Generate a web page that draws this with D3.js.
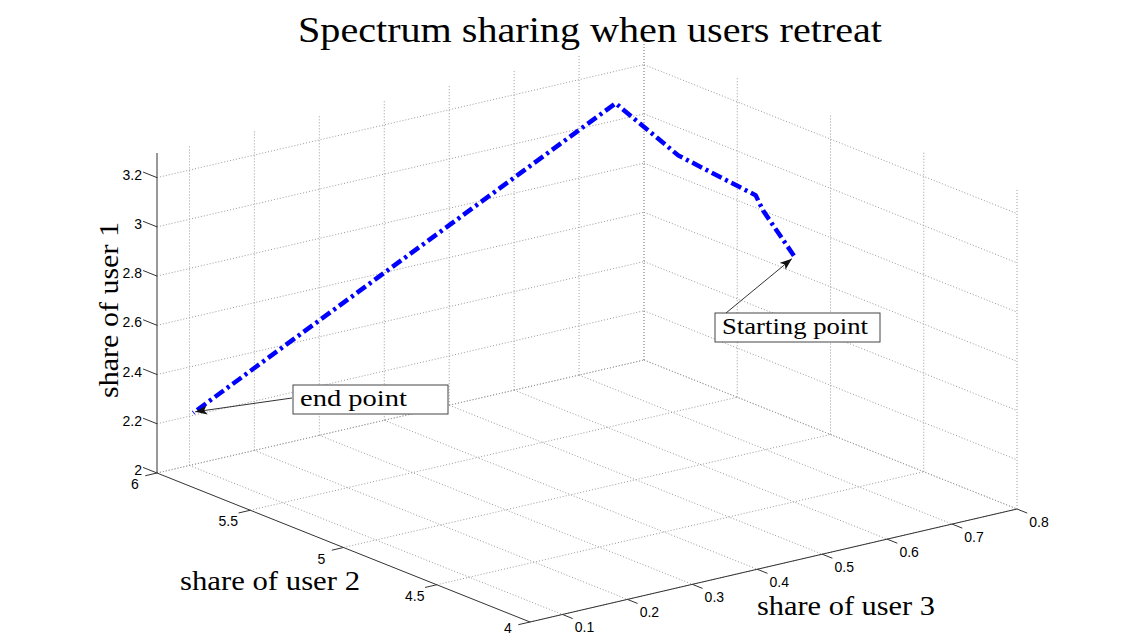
<!DOCTYPE html>
<html>
<head>
<meta charset="utf-8">
<script src="https://cdn.jsdelivr.net/npm/d3@7"></script>
<style>
  body { margin: 0; background: #fff; }
</style>
</head>
<body>
<div id="chart"></div>
<script>
// shares along the path, from starting point to end point
var user1 = [3.00, 3.15, 3.20, 3.22, 3.28, 2.22];
var user2 = [4.50, 4.63, 4.67, 5.12, 5.56, 5.98];
var user3 = [0.60, 0.59, 0.59, 0.60, 0.63, 0.10];

var ticks1 = [2, 2.2, 2.4, 2.6, 2.8, 3, 3.2];
var ticks2 = [4, 4.5, 5, 5.5, 6];
var ticks3 = [0.1, 0.2, 0.3, 0.4, 0.5, 0.6, 0.7, 0.8];
var lim1 = [2, 3.3], lim2 = [4, 6], lim3 = [0.05, 0.8];

var width = 1140, height = 637;
var svg = d3.select("#chart").append("svg")
    .attr("width", width)
    .attr("height", height)
    .attr("xmlns", "http://www.w3.org/2000/svg");

// orthographic 3d view: each axis maps to 0..1, then onto a screen vector
var s1 = d3.scaleLinear().domain(lim1).range([0, 1]);
var s2 = d3.scaleLinear().domain([lim2[1], lim2[0]]).range([0, 1]);
var s3 = d3.scaleLinear().domain(lim3).range([0, 1]);
var origin = [157, 473], v1 = [0, -320], v2 = [373, 149], v3 = [487, -113];

function proj(u1, u2, u3) {
    var a = s1(u1), b = s2(u2), c = s3(u3);
    return [origin[0] + a * v1[0] + b * v2[0] + c * v3[0],
            origin[1] + a * v1[1] + b * v2[1] + c * v3[1]];
}
function unit(v, len) {
    var n = Math.sqrt(v[0] * v[0] + v[1] * v[1]);
    return [v[0] / n * len, v[1] / n * len];
}
var line = d3.line();

// grid on floor and the two back walls
var grid = [];
ticks2.forEach(function(t) {
    grid.push([proj(lim1[0], t, lim3[0]), proj(lim1[0], t, lim3[1])]);   // floor
    grid.push([proj(lim1[0], t, lim3[1]), proj(lim1[1], t, lim3[1])]);   // right wall
});
ticks3.forEach(function(t) {
    grid.push([proj(lim1[0], lim2[1], t), proj(lim1[0], lim2[0], t)]);   // floor
    grid.push([proj(lim1[0], lim2[1], t), proj(lim1[1], lim2[1], t)]);   // left wall
});
ticks1.forEach(function(t) {
    grid.push([proj(t, lim2[1], lim3[0]), proj(t, lim2[1], lim3[1])]);   // left wall
    grid.push([proj(t, lim2[1], lim3[1]), proj(t, lim2[0], lim3[1])]);   // right wall
});
svg.append("g").selectAll("path")
    .data(grid)
    .enter().append("path")
    .attr("d", line)
    .attr("fill", "none")
    .attr("stroke", "#9a9a9a")
    .attr("stroke-width", 1)
    .attr("stroke-dasharray", "1,2");

// axis lines
var axes = [
    [proj(lim1[0], lim2[1], lim3[0]), proj(lim1[1], lim2[1], lim3[0])],
    [proj(lim1[0], lim2[1], lim3[0]), proj(lim1[0], lim2[0], lim3[0])],
    [proj(lim1[0], lim2[0], lim3[0]), proj(lim1[0], lim2[0], lim3[1])]
];
svg.append("g").selectAll("path")
    .data(axes)
    .enter().append("path")
    .attr("d", line)
    .attr("stroke", "#333")
    .attr("stroke-width", 1);

var tickG = svg.append("g")
    .style("font-family", "'Liberation Sans', Arial, sans-serif")
    .style("font-size", "14px")
    .attr("fill", "#000");

function ticks(vals, at, dir, off, anchor) {
    vals.forEach(function(t) {
        var p = at(t);
        tickG.append("path")
            .attr("d", line([p, [p[0] + dir[0], p[1] + dir[1]]]))
            .attr("stroke", "#333");
        tickG.append("text")
            .attr("x", p[0] + off[0])
            .attr("y", Math.min(p[1] + off[1], height - 9))  // keep bottom label on page
            .attr("text-anchor", anchor)
            .attr("dominant-baseline", "central")
            .text(t);
    });
}
ticks(ticks1, function(t) { return proj(t, lim2[1], lim3[0]); }, unit([-v2[0], -v2[1]], 15), [-15, -3], "end");
ticks(ticks2, function(t) { return proj(lim1[0], t, lim3[0]); }, unit([-v3[0], -v3[1]], 12), [-22, 11], "middle");
ticks(ticks3, function(t) { return proj(lim1[0], lim2[0], t); }, unit(v2, 11), [22, 13], "middle");

// data path
var pts = user1.map(function(d, i) { return proj(user1[i], user2[i], user3[i]); });
svg.append("path")
    .attr("d", line(pts))
    .attr("fill", "none")
    .attr("stroke", "#0000ff")
    .attr("stroke-width", 4.5)
    .attr("stroke-dasharray", "11,4,3,4");

// labels
var serif = "'Liberation Serif', 'Times New Roman', serif";
svg.append("text")
    .attr("x", 298).attr("y", 42)
    .attr("textLength", 584).attr("lengthAdjust", "spacingAndGlyphs")
    .style("font-family", serif).style("font-size", "35px")
    .text("Spectrum sharing when users retreat");
svg.append("text")
    .attr("transform", "translate(118,310) rotate(-90)")
    .attr("text-anchor", "middle")
    .attr("textLength", 176).attr("lengthAdjust", "spacingAndGlyphs")
    .style("font-family", serif).style("font-size", "27px")
    .text("share of user 1");
svg.append("text")
    .attr("x", 180).attr("y", 590)
    .attr("textLength", 180).attr("lengthAdjust", "spacingAndGlyphs")
    .style("font-family", serif).style("font-size", "27px")
    .text("share of user 2");
svg.append("text")
    .attr("x", 757).attr("y", 615)
    .attr("textLength", 178).attr("lengthAdjust", "spacingAndGlyphs")
    .style("font-family", serif).style("font-size", "27px")
    .text("share of user 3");

// annotations with arrows
svg.append("defs").append("marker")
    .attr("id", "head")
    .attr("markerWidth", 13).attr("markerHeight", 9)
    .attr("refX", 12).attr("refY", 4.5)
    .attr("orient", "auto")
    .attr("markerUnits", "userSpaceOnUse")
    .append("path")
    .attr("d", "M0,0 L12,4.5 L0,9 L3,4.5 Z")
    .attr("fill", "#111");

function note(txt, box, tx, tw, from, to) {
    svg.append("rect")
        .attr("x", box[0]).attr("y", box[1])
        .attr("width", box[2]).attr("height", box[3])
        .attr("fill", "#fff").attr("stroke", "#444");
    svg.append("text")
        .attr("x", tx[0]).attr("y", tx[1])
        .attr("textLength", tw).attr("lengthAdjust", "spacingAndGlyphs")
        .style("font-family", serif).style("font-size", "24px")
        .text(txt);
    svg.append("path")
        .attr("d", line([from, to]))
        .attr("stroke", "#333")
        .attr("marker-end", "url(#head)");
}
var p0 = pts[0], pN = pts[pts.length - 1];
note("Starting point", [715, 313, 165, 29], [722, 334], 146, [726, 313], [p0[0] - 2, p0[1] + 3]);
note("end point", [293, 385, 155, 29], [300, 406], 107, [292, 398], [pN[0] + 2, pN[1] - 1]);
</script>
</body>
</html>
